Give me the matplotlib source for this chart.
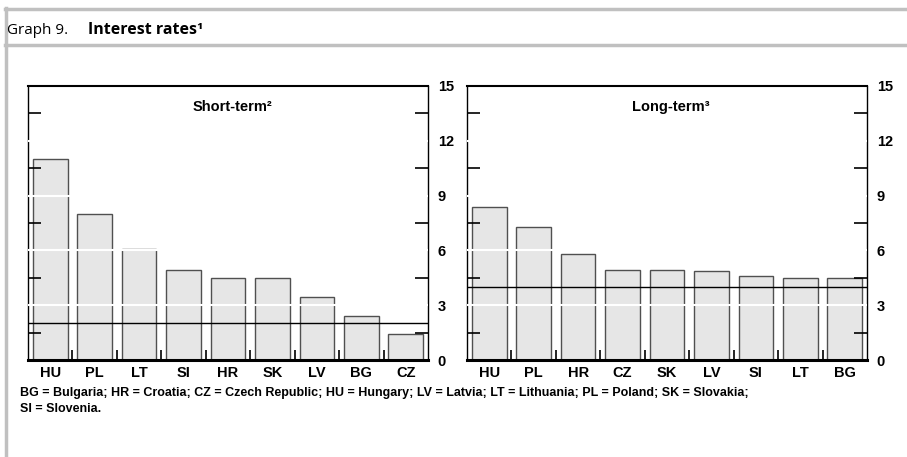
import numpy as np
import matplotlib
matplotlib.use('Agg')
from matplotlib import pyplot as plt
from matplotlib.lines import Line2D

# data
short_cats = ['HU', 'PL', 'LT', 'SI', 'HR', 'SK', 'LV', 'BG', 'CZ']
short_vals = [11.0, 8.0, 6.05, 4.95, 4.5, 4.5, 3.45, 2.4, 1.45]
short_ref = 2.0

long_cats = ['HU', 'PL', 'HR', 'CZ', 'SK', 'LV', 'SI', 'LT', 'BG']
long_vals = [8.4, 7.3, 5.8, 4.95, 4.95, 4.85, 4.6, 4.5, 4.5]
long_ref = 4.0

yticks = [0, 3, 6, 9, 12, 15]

narrow = ['Liberation Sans Narrow', 'Liberation Sans', 'DejaVu Sans']
plt.rcParams['font.family'] = narrow

fig = plt.figure(figsize=(9.07, 4.57), dpi=100)

# frame of the graph box
frame_col = '#c0c0c0'
fig.add_artist(Line2D([5/907, 1], [1 - 9/457]*2, color=frame_col, lw=2.5))
fig.add_artist(Line2D([5/907, 1], [1 - 45/457]*2, color=frame_col, lw=2.5))
fig.add_artist(Line2D([6/907]*2, [0, 1 - 8/457], color=frame_col, lw=2.5))

title_font = ['Open Sans', 'DejaVu Sans']
fig.text(7/907, 1 - 30/457, 'Graph 9.', fontsize=11, family=title_font,
         va='center', ha='left')
fig.text(88/907, 1 - 30/457, 'Interest rates¹', fontsize=11.5, family=title_font,
         fontweight='bold', va='center', ha='left')


def panel(rect, cats, vals, ref, title):
    ax = fig.add_axes(rect)
    x = np.arange(len(cats))
    ax.bar(x, vals, width=0.78, color='#e6e6e6', edgecolor='#505050', lw=1, zorder=1)
    for v in yticks[1:-1]:
        ax.axhline(v, color='white', lw=1.5, zorder=3)
    ax.axhline(ref, color='black', lw=1, zorder=4)
    ax.set_xlim(-0.5, len(cats) - 0.5)
    ax.set_ylim(0, 15)
    ax.set_yticks(yticks)
    ax.set_yticks(np.arange(1.5, 15, 3), minor=True)
    ax.tick_params(axis='y', which='both', direction='in', left=True, right=True,
                   labelleft=False, labelright=True, length=9.5, width=1.2, pad=7)
    ax.set_yticklabels([str(t) for t in yticks], fontsize=10.5, fontweight='bold')
    ax.set_xticks(x)
    ax.set_xticklabels(cats, fontsize=10.5, fontweight='bold')
    ax.set_xticks(np.arange(len(cats) - 1) + 0.5, minor=True)
    ax.tick_params(axis='x', which='major', length=0, pad=4.5)
    ax.tick_params(axis='x', which='minor', direction='in', length=7, width=1.2)
    ax.spines['bottom'].set_linewidth(2.2)
    ax.spines['top'].set_linewidth(1.5)
    ax.spines['left'].set_linewidth(1)
    ax.spines['right'].set_linewidth(1)
    ax.text(0.51, 0.925, title, transform=ax.transAxes, ha='center', va='center',
            fontsize=10.5, fontweight='bold')
    return ax


panel([28/907, 97/457, 400/907, 274/457], short_cats, short_vals, short_ref, 'Short-term²')
panel([467/907, 97/457, 400/907, 274/457], long_cats, long_vals, long_ref, 'Long-term³')

note = ('BG = Bulgaria; HR = Croatia; CZ = Czech Republic; HU = Hungary; LV = Latvia; '
        'LT = Lithuania; PL = Poland; SK = Slovakia;\nSI = Slovenia.')
fig.text(20/907, 1 - 387/457, note, fontsize=9, fontweight='bold', va='top', ha='left',
         linespacing=1.5)

fig.savefig('out.png', dpi=100)
